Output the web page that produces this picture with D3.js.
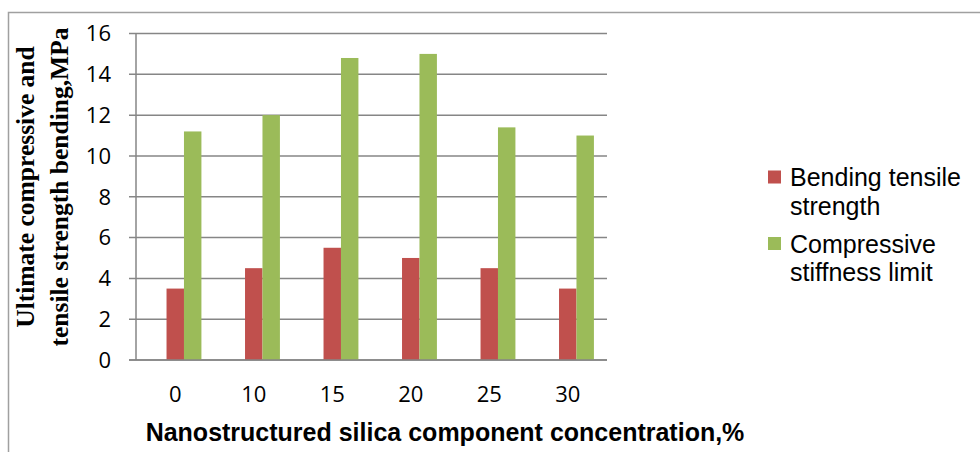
<!DOCTYPE html>
<html>
<head>
<meta charset="utf-8">
<script src="https://cdn.jsdelivr.net/npm/d3@7"></script>
<style>
  body { margin: 0; background: #fff; }
  svg { display: block; }
  .tick-label { font-family: "Open Sans", sans-serif; font-size: 22px; fill: #000; }
</style>
</head>
<body>
<svg id="chart"></svg>
<script>
// data
var categories = ["0", "10", "15", "20", "25", "30"];
var seriesNames = ["Bending tensile strength", "Compressive stiffness limit"];
var bending = [3.5, 4.5, 5.5, 5.0, 4.5, 3.5];
var compressive = [11.2, 12.0, 14.8, 15.0, 11.4, 11.0];
var yTicks = [0, 2, 4, 6, 8, 10, 12, 14, 16];
var legendLines = [["Bending tensile", "strength"], ["Compressive", "stiffness limit"]];
var colors = ["#C0504D", "#9BBB59"];

var width = 980,
    height = 452;

var svg = d3.select("#chart")
    .attr("width", width)
    .attr("height", height);

// outer chart border (runs off the right and bottom edge)
svg.append("rect")
    .attr("x", 8.5)
    .attr("y", 12.5)
    .attr("width", 1000)
    .attr("height", 500)
    .attr("fill", "none")
    .attr("stroke", "#a0a0a0")
    .attr("stroke-width", 1.5);

var plot = { left: 136, right: 607, top: 33.5, bottom: 360 };

var x = d3.scaleBand().domain(categories).range([plot.left, plot.right]);
// excel leaves an empty slot before the two series
var xInner = d3.scaleBand()
    .domain(["blank"].concat(seriesNames))
    .range([0, x.bandwidth()])
    .paddingOuter(0.75);
var y = d3.scaleLinear().domain([0, 16]).range([plot.bottom, plot.top]);

// gridlines
svg.append("g")
    .selectAll("line")
    .data(yTicks)
    .enter().append("line")
    .attr("x1", plot.left - 7)
    .attr("x2", plot.right)
    .attr("y1", function(d){ return y(d); })
    .attr("y2", function(d){ return y(d); })
    .attr("stroke", "#868686")
    .attr("stroke-width", 1.5);

// bars
var groups = svg.append("g")
    .selectAll("g")
    .data(categories)
    .enter().append("g")
    .attr("transform", function(d){ return "translate(" + x(d) + ",0)"; });

groups.selectAll("rect")
    .data(function(d, i){
        return [
            { key: seriesNames[0], value: bending[i], c: 0 },
            { key: seriesNames[1], value: compressive[i], c: 1 }
        ];
    })
    .enter().append("rect")
    .attr("x", function(d){ return xInner(d.key); })
    .attr("width", xInner.bandwidth())
    .attr("y", function(d){ return y(d.value); })
    .attr("height", function(d){ return y(0) - y(d.value); })
    .attr("fill", function(d){ return colors[d.c]; });

// axis lines
svg.append("line")
    .attr("x1", plot.left).attr("x2", plot.left)
    .attr("y1", plot.top).attr("y2", plot.bottom)
    .attr("stroke", "#868686").attr("stroke-width", 1.5);
svg.append("line")
    .attr("x1", plot.left - 7).attr("x2", plot.right)
    .attr("y1", plot.bottom).attr("y2", plot.bottom)
    .attr("stroke", "#868686").attr("stroke-width", 1.5);

// y tick labels
svg.append("g")
    .selectAll("text")
    .data(yTicks)
    .enter().append("text")
    .attr("class", "tick-label")
    .attr("x", 111)
    .attr("y", function(d){ return y(d); })
    .attr("dy", "0.36em")
    .attr("text-anchor", "end")
    .text(function(d){ return d; });

// x tick labels
svg.append("g")
    .selectAll("text")
    .data(categories)
    .enter().append("text")
    .attr("class", "tick-label")
    .attr("x", function(d){ return x(d) + x.bandwidth() / 2; })
    .attr("y", 402)
    .attr("text-anchor", "middle")
    .text(function(d){ return d; });

// x title
svg.append("text")
    .attr("x", 445)
    .attr("y", 441)
    .attr("text-anchor", "middle")
    .attr("font-family", "Liberation Sans, Arial, sans-serif")
    .attr("font-weight", "bold")
    .attr("font-size", 25)
    .text("Nanostructured silica component concentration,%");

// y title, two lines
var yTitle = svg.append("text")
    .attr("transform", "translate(34,187) rotate(-90)")
    .attr("text-anchor", "middle")
    .attr("font-family", "Liberation Serif, Times New Roman, serif")
    .attr("font-weight", "bold")
    .attr("font-size", 25.5);
yTitle.append("tspan").attr("x", 0).attr("y", 0).text("Ultimate compressive and");
yTitle.append("tspan").attr("x", 0).attr("y", 34).text("tensile strength bending,MPa");

// legend
var legend = svg.append("g")
    .selectAll("g")
    .data(legendLines)
    .enter().append("g")
    .attr("transform", function(d, i){ return "translate(768," + (170.5 + i * 66.5) + ")"; });

legend.append("rect")
    .attr("width", 13)
    .attr("height", 13)
    .attr("fill", function(d, i){ return colors[i]; });

legend.append("text")
    .attr("font-family", "Liberation Sans, Arial, sans-serif")
    .attr("font-size", 25)
    .attr("fill", "#000")
    .selectAll("tspan")
    .data(function(d){ return d; })
    .enter().append("tspan")
    .attr("x", 22)
    .attr("y", function(d, j){ return 15.5 + j * 28.5; })
    .text(function(d){ return d; });
</script>
</body>
</html>
